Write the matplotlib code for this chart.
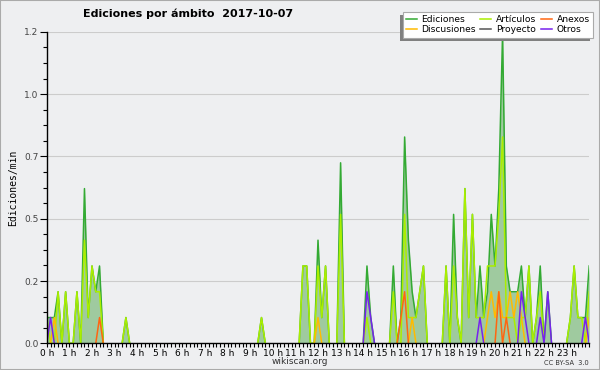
import numpy as np
import matplotlib
matplotlib.use('Agg')
import matplotlib.pyplot as plt
from matplotlib.ticker import MultipleLocator

# edits per 10 minute slot, 2017-10-07 (one row per hour, last value = 24 h)
ediciones = [1, 1, 1, 2, 0, 2,   0, 0, 2, 0, 6, 1,   3, 2, 3, 0, 0, 0,   0, 0, 0, 1, 0, 0,
             0, 0, 0, 0, 0, 0,   0, 0, 0, 0, 0, 0,   0, 0, 0, 0, 0, 0,   0, 0, 0, 0, 0, 0,
             0, 0, 0, 0, 0, 0,   0, 0, 0, 1, 0, 0,   0, 0, 0, 0, 0, 0,   0, 0, 3, 3, 0, 0,
             4, 1, 3, 0, 0, 0,   7, 0, 0, 0, 0, 0,   0, 3, 1, 0, 0, 0,   0, 0, 3, 0, 1, 8,
             4, 2, 1, 2, 3, 0,   0, 0, 0, 0, 3, 0,   5, 1, 0, 6, 1, 5,   1, 3, 1, 2, 5, 3,
             6, 12, 3, 2, 2, 2,  3, 1, 3, 0, 1, 3,   0, 2, 0, 0, 0, 0,   0, 1, 3, 1, 1, 1,
             3]
articulos = [1, 0, 0, 2, 0, 2,   0, 0, 2, 0, 4, 1,   3, 2, 2, 0, 0, 0,   0, 0, 0, 1, 0, 0,
             0, 0, 0, 0, 0, 0,   0, 0, 0, 0, 0, 0,   0, 0, 0, 0, 0, 0,   0, 0, 0, 0, 0, 0,
             0, 0, 0, 0, 0, 0,   0, 0, 0, 1, 0, 0,   0, 0, 0, 0, 0, 0,   0, 0, 3, 3, 0, 0,
             3, 1, 3, 0, 0, 0,   5, 0, 0, 0, 0, 0,   0, 1, 0, 0, 0, 0,   0, 0, 2, 0, 0, 5,
             1, 1, 1, 2, 3, 0,   0, 0, 0, 0, 3, 0,   3, 1, 0, 6, 1, 5,   1, 1, 1, 3, 3, 3,
             5, 8, 1, 1, 1, 0,   1, 1, 3, 0, 1, 2,   0, 0, 0, 0, 0, 0,   0, 1, 3, 1, 1, 0,
             2]
anexos = {14: 1, 94: 1, 95: 2, 120: 2, 122: 1}
discusiones = {2: 1, 72: 1, 97: 1, 117: 1, 118: 2, 119: 1, 120: 2, 121: 1, 122: 1,
               123: 2, 124: 1, 125: 2, 126: 1, 144: 1}
proyecto = {}
otros = {1: 1, 85: 2, 86: 1, 115: 1, 126: 2, 127: 1, 131: 1, 133: 2, 143: 1}

per_edit = 0.1035   # Ediciones/min for one edit in a slot
hours = np.arange(len(ediciones)) / 6.0


def full(d):
    s = np.zeros(len(ediciones))
    for k in d:
        s[k] = d[k]
    return s


def masked(v):
    # hide the runs that lie on the zero line, like the original
    v = np.asarray(v, dtype=float) * per_edit
    nz = v > 0
    keep = nz.copy()
    keep[1:] |= nz[:-1]
    keep[:-1] |= nz[1:]
    out = v.copy()
    out[~keep] = np.nan
    return out


bg = '#eeeff1'
fig = plt.figure(figsize=(6, 3.7), dpi=100, facecolor=bg)
ax = fig.add_axes([0.078, 0.072, 0.904, 0.842], facecolor=bg)

ed = np.array(ediciones) * per_edit
ax.fill_between(hours, ed, color='#9fca9f', lw=0, zorder=1)
ax.plot(hours, masked(ediciones), color='#33aa33', lw=1.1, zorder=2, label='Ediciones')
ax.plot(hours, masked(articulos), color='#aaee00', lw=1.1, zorder=3, label='Artículos')
ax.plot(hours, masked(full(proyecto)), color='#555555', lw=1.1, zorder=3, label='Proyecto')
ax.plot(hours, masked(full(discusiones)), color='#ffbb00', lw=1.1, zorder=4, label='Discusiones')
ax.plot(hours, masked(full(anexos)), color='#ff6611', lw=1.1, zorder=5, label='Anexos')
ax.plot(hours, masked(full(otros)), color='#7722ee', lw=1.1, zorder=6, label='Otros')

ax.set_xlim(0, 24)
ax.set_ylim(0, 1.25)
ax.set_yticks([0, 0.25, 0.5, 0.75, 1.0, 1.25])
ax.set_yticklabels(['0.0', '0.2', '0.5', '0.7', '1.0', '1.2'])
ax.yaxis.set_minor_locator(MultipleLocator(0.0625))
ax.set_xticks(np.arange(24))
ax.set_xticklabels(['%d h' % h for h in range(24)])
ax.xaxis.set_minor_locator(MultipleLocator(1 / 6))
ax.tick_params(axis='y', which='major', length=5, width=0.8, labelsize=6.5,
               labelcolor='#444444', pad=1)
ax.tick_params(axis='y', which='minor', length=3, width=0.8)
ax.tick_params(axis='x', which='both', length=3, width=0.8, labelsize=6.5, pad=1)
ax.grid(axis='y', color='#cccccc', lw=0.8, zorder=0)
ax.set_axisbelow(True)
for s in ['top', 'right']:
    ax.spines[s].set_visible(False)
for s in ['left', 'bottom']:
    ax.spines[s].set_zorder(10)
    ax.spines[s].set_linewidth(1.0)

ax.set_ylabel('Ediciones/min', family='DejaVu Sans Mono', fontsize=7, labelpad=4)
fig.text(0.314, 0.962, 'Ediciones por ámbito  2017-10-07', ha='center', va='center',
         fontsize=8, fontweight='bold')
fig.text(0.5, 0.024, 'wikiscan.org', ha='center', va='center', fontsize=6.5, color='#333333')
fig.text(0.982, 0.02, 'CC BY-SA  3.0', ha='right', va='center', fontsize=4.8, color='#333333')

h, l = ax.get_legend_handles_labels()
order = ['Ediciones', 'Discusiones', 'Artículos', 'Proyecto', 'Anexos', 'Otros']
hh = [h[l.index(o)] for o in order]
leg = fig.legend(hh, order, ncol=3, loc='upper right', bbox_to_anchor=(0.988, 0.968),
                 borderaxespad=0, fontsize=6.6, frameon=True, fancybox=False,
                 handlelength=1.2, handletextpad=0.5, columnspacing=0.5,
                 labelspacing=0.15, borderpad=0.35, framealpha=1)
leg.get_frame().set_edgecolor('#aaaaaa')
leg.get_frame().set_linewidth(0.8)
leg.set_zorder(6)

# drop shadow down and to the left of the legend box
fig.canvas.draw()
bb = leg.get_window_extent().transformed(fig.transFigure.inverted())
dx, dy = 3 / 600, 3 / 370
fig.patches.append(plt.Rectangle((bb.x0 - dx, bb.y0 - dy), bb.width, bb.height,
                                 transform=fig.transFigure, color='#808080', lw=0, zorder=5))

fig.patches.append(plt.Rectangle((0, 0), 1, 1, transform=fig.transFigure,
                                 fill=False, edgecolor='#aaaaaa', lw=1.5))
fig.savefig('out.png', dpi=100, facecolor=bg)
